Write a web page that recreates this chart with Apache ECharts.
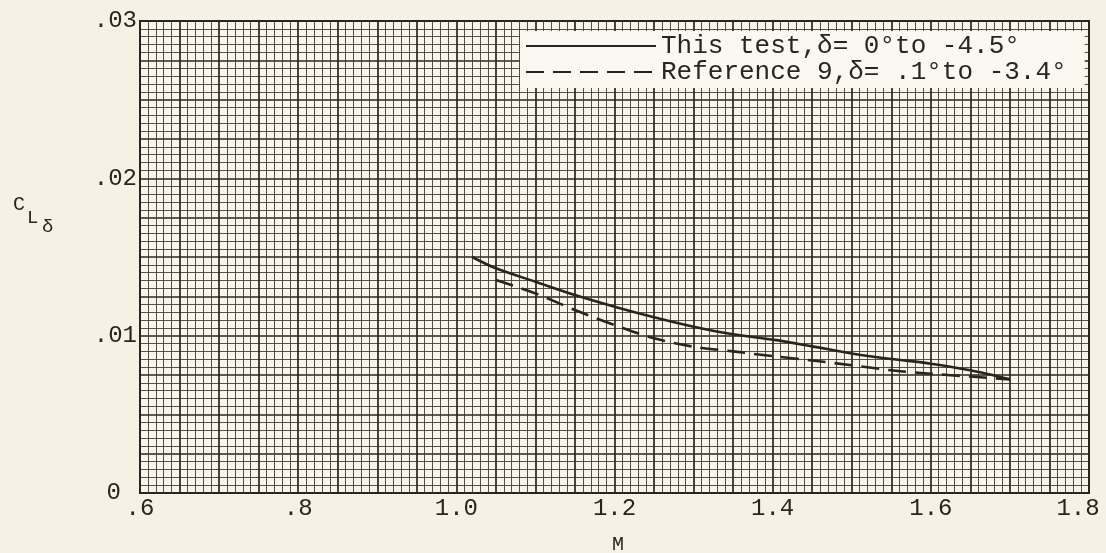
<!DOCTYPE html>
<html>
<head>
<meta charset="utf-8">
<script src="https://cdn.jsdelivr.net/npm/echarts@6/dist/echarts.min.js"></script>
<style>
html,body{margin:0;padding:0;background:#f5f1e4;}
#c{width:1106px;height:553px;}
</style>
</head>
<body>
<div id="c"></div>
<script>
// ---- data ----
var solidM = [1.02, 1.05, 1.10, 1.15, 1.20, 1.25, 1.30, 1.35, 1.40, 1.45, 1.50, 1.55, 1.60, 1.65, 1.70];
var solidC = [0.0150, 0.01428, 0.01343, 0.01258, 0.01184, 0.01117, 0.01057, 0.01009, 0.00975, 0.00932, 0.00887, 0.00852, 0.00822, 0.00780, 0.00723];
var dashM = [1.05, 1.10, 1.15, 1.20, 1.25, 1.30, 1.35, 1.40, 1.45, 1.50, 1.55, 1.60, 1.65, 1.70];
var dashC = [0.01354, 0.01269, 0.01163, 0.01068, 0.00983, 0.00930, 0.00900, 0.00870, 0.00842, 0.00812, 0.00780, 0.00758, 0.00740, 0.00722];
var seriesNames = ['This test,\u03b4= 0\u00b0to -4.5\u00b0', 'Reference 9,\u03b4= .1\u00b0to -3.4\u00b0'];
var xTickValues = [0.6, 0.8, 1.0, 1.2, 1.4, 1.6, 1.8];
var xTickLabels = ['.6', '.8', '1.0', '1.2', '1.4', '1.6', '1.8'];
var yTickValues = [0, 0.01, 0.02, 0.03];
var yTickLabels = ['0', '.01', '.02', '.03'];
var xTitle = 'M';

function zip(a, b) { return a.map(function (v, i) { return [v, b[i]]; }); }
function lookup(vals, labels, tol, shiftFirst, shiftLast) {
  return function (v) {
    for (var i = 0; i < vals.length; i++) {
      if (Math.abs(v - vals[i]) < tol) {
        if (i === 0 && shiftFirst) return '{' + shiftFirst + '|' + labels[i] + '}';
        if (i === vals.length - 1 && shiftLast) return '{' + shiftLast + '|' + labels[i] + '}';
        return labels[i];
      }
    }
    return '';
  };
}

var ink = '#2a2420';
var font = 'Liberation Mono';
var chart = echarts.init(document.getElementById('c'));
chart.setOption({
  backgroundColor: '#f5f1e4',
  animation: false,
  grid: { left: 140, right: 17, top: 21, bottom: 60, show: true, containLabel: false, outerBoundsMode: 'none',
          backgroundColor: '#f8f5ec', borderColor: ink, borderWidth: 2 },
  legend: {
    orient: 'vertical', left: 520, top: 31, itemWidth: 130, itemHeight: 14, itemGap: 0,
    padding: [2, 18, 3, 5], backgroundColor: '#faf8f1',
    itemStyle: { color: 'rgba(0,0,0,0)', borderWidth: 0, opacity: 0 },
    textStyle: { fontFamily: font, fontSize: 26, color: ink, lineHeight: 26 },
    data: seriesNames
  },
  xAxis: {
    type: 'value', min: 0.6, max: 1.8, interval: 0.05,
    axisLine: { show: false }, axisTick: { show: false },
    axisLabel: { formatter: lookup(xTickValues, xTickLabels, 1e-6, null, 'xl'), fontFamily: font, fontSize: 24, color: ink, margin: 4,
                 showMinLabel: true, showMaxLabel: true,
                 rich: { xl: { fontFamily: font, fontSize: 24, color: ink, padding: [0, 22, 0, 0] } } },
    splitLine: { show: true, lineStyle: { color: ink, width: 1.7 } },
    minorTick: { show: false, splitNumber: 5 },
    minorSplitLine: { show: true, lineStyle: { color: '#453d36', width: 0.9 } }
  },
  yAxis: {
    type: 'value', min: 0, max: 0.03, interval: 0.0025,
    axisLine: { show: false }, axisTick: { show: false },
    axisLabel: { formatter: lookup(yTickValues, yTickLabels, 1e-7, 'y0', null), fontFamily: font, fontSize: 24, color: ink, margin: 3,
                 rich: { y0: { fontFamily: font, fontSize: 24, color: ink, padding: [0, 16, 0, 0] } } },
    splitLine: { show: true, lineStyle: { color: ink, width: 1.7 } },
    minorTick: { show: false, splitNumber: 5 },
    minorSplitLine: { show: true, lineStyle: { color: '#453d36', width: 0.9 } }
  },
  graphic: [
    { type: 'text', left: 13, top: 195, style: { text: 'C', font: '20px "Liberation Mono"', fill: ink } },
    { type: 'text', left: 27, top: 208, style: { text: 'L', font: '19px "Liberation Mono"', fill: ink } },
    { type: 'text', left: 42, top: 217, style: { text: '\u03b4', font: '19px "Liberation Mono"', fill: ink } },
    { type: 'text', left: 612, top: 535, style: { text: xTitle, font: '20px "Liberation Mono"', fill: ink } }
  ],
  series: [
    { name: seriesNames[0], type: 'line', data: zip(solidM, solidC), smooth: 0.3, symbol: 'none',
      lineStyle: { color: ink, width: 2.6, type: 'solid' }, itemStyle: { color: ink } },
    { name: seriesNames[1], type: 'line', data: zip(dashM, dashC), smooth: 0.3, symbol: 'none',
      lineStyle: { color: ink, width: 2.6, type: [18, 9] }, itemStyle: { color: ink } }
  ]
});
</script>
</body>
</html>
